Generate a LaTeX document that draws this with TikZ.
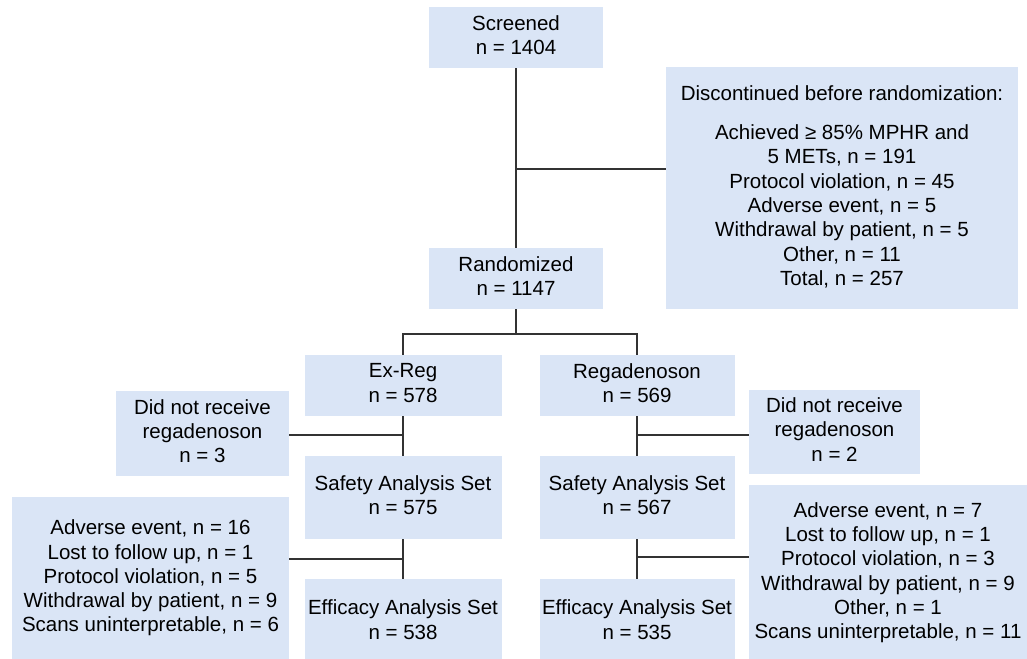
\documentclass[tikz,border=0pt]{standalone}
\usepackage{fontspec}
\setmainfont{Liberation Sans}
\definecolor{boxblue}{RGB}{218,229,246}
\definecolor{linegray}{RGB}{51,51,51}
\newcommand{\lnstrut}{\rule[-5.1pt]{0pt}{24.3pt}}
\begin{document}
\begin{tikzpicture}[x=1pt, y=-1pt,
    box/.style={fill=boxblue, inner sep=0pt, align=center,
      font=\fontsize{20.5}{24.3}\selectfont,
      execute at begin node=\lnstrut, execute at end node=\lnstrut},
    link/.style={draw=linegray, line width=1.2pt}]
  \useasboundingbox (0,0) rectangle (1027,658);
  \clip (0,0) rectangle (1027,658);
  % top part
  \node[box, minimum width=174, minimum height=61] (screened) at (516,37.5) {Screened\\n = 1404};
  \node[box, minimum width=174, minimum height=61] (rand) at (516,278.5) {Randomized\\n = 1147};
  \node[box, minimum width=352, minimum height=242] (disc) at (842,188) {Discontinued before randomization:\\[15pt]Achieved ≥ 85\% MPHR and\\5 METs, n = 191\\Protocol violation, n = 45\\Adverse event, n = 5\\Withdrawal by patient, n = 5\\Other, n = 11\\Total, n = 257};
  % arms
  \node[box, minimum width=197, minimum height=61] (exreg) at (403,385.5) {Ex-Reg\\n = 578};
  \node[box, minimum width=195, minimum height=61] (reg) at (637,385.5) {Regadenoson\\n = 569};
  \node[box, minimum width=173, minimum height=85] (notrecL) at (202.5,433.5) {Did not receive\\regadenoson\\n = 3};
  \node[box, minimum width=171, minimum height=84] (notrecR) at (834.5,432) {Did not receive\\regadenoson\\n = 2};
  \node[box, minimum width=197, minimum height=83] (safeL) at (403,497.5) {Safety Analysis Set\\n = 575};
  \node[box, minimum width=195, minimum height=83] (safeR) at (637,497.5) {Safety Analysis Set\\n = 567};
  \node[box, minimum width=277, minimum height=163] (dropL) at (150.5,578.5) {Adverse event, n = 16\\Lost to follow up, n = 1\\Protocol violation, n = 5\\Withdrawal by patient, n = 9\\Scans uninterpretable, n = 6};
  \node[box, minimum width=278, minimum height=176] (dropR) at (888,573) {Adverse event, n = 7\\Lost to follow up, n = 1\\Protocol violation, n = 3\\Withdrawal by patient, n = 9\\Other, n = 1\\Scans uninterpretable, n = 11};
  \node[box, minimum width=197, minimum height=86] (effL) at (403,622) {Efficacy Analysis Set\\n = 538};
  \node[box, minimum width=195, minimum height=86] (effR) at (637,622) {Efficacy Analysis Set\\n = 535};
  % connectors
  \coordinate (j1) at (516,169);
  \coordinate (j2) at (516,334);
  \coordinate (j3) at (403,435);
  \coordinate (j4) at (403,559);
  \coordinate (j5) at (637,435);
  \coordinate (j6) at (637,557);
  \draw[link] (screened) -- (rand);
  \draw[link] (j1) -- (disc.west |- j1);
  \draw[link] (rand) -- (j2);
  \draw[link] (exreg) |- (j2) -| (reg);
  \draw[link] (exreg) -- (safeL);
  \draw[link] (j3) -- (notrecL.east |- j3);
  \draw[link] (safeL) -- (effL);
  \draw[link] (j4) -- (dropL.east |- j4);
  \draw[link] (reg) -- (safeR);
  \draw[link] (j5) -- (notrecR.west |- j5);
  \draw[link] (safeR) -- (effR);
  \draw[link] (j6) -- (dropR.west |- j6);
\end{tikzpicture}
\end{document}
